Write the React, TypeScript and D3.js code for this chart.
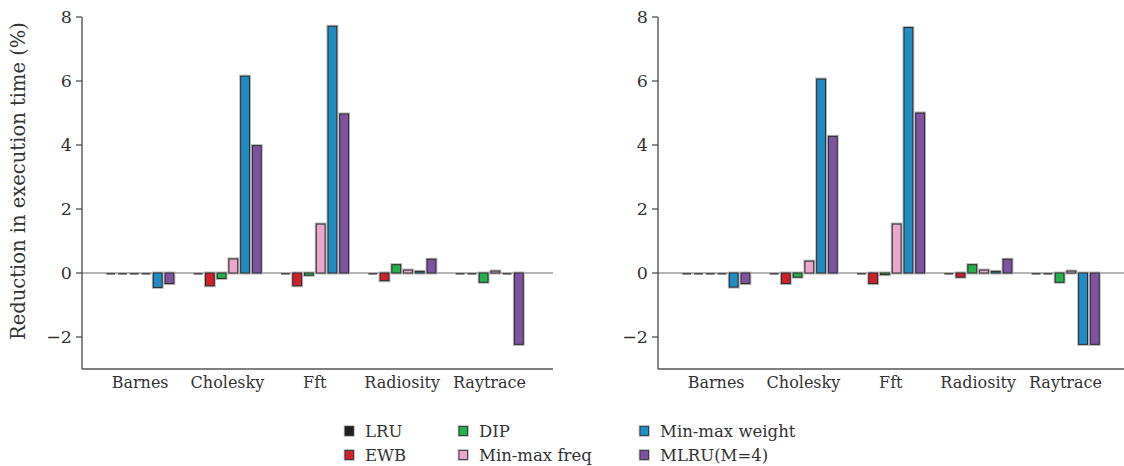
import React from "react";
import * as d3 from "d3";

// Benchmarks on the x axis
const categories = ["Barnes", "Cholesky", "Fft", "Radiosity", "Raytrace"];

// Replacement policies (legend order follows column-major layout)
const seriesNames = ["LRU", "EWB", "DIP", "Min-max freq", "Min-max weight", "MLRU(M=4)"];
const seriesColors = ["#231f20", "#cf1f2a", "#23b14d", "#eba6cb", "#1f8dc4", "#7e52a1"];

// Left panel: reduction in execution time (%)
const leftLRU = [-0.02, -0.02, -0.02, -0.02, -0.02];
const leftEWB = [-0.02, -0.4, -0.4, -0.24, -0.02];
const leftDIP = [-0.02, -0.17, -0.07, 0.26, -0.29];
const leftMinMaxFreq = [-0.02, 0.44, 1.53, 0.09, 0.06];
const leftMinMaxWeight = [-0.45, 6.15, 7.71, 0.05, -0.02];
const leftMLRU = [-0.33, 3.98, 4.97, 0.43, -2.23];

// Right panel: reduction in execution time (%)
const rightLRU = [-0.02, -0.02, -0.02, -0.02, -0.02];
const rightEWB = [-0.02, -0.33, -0.33, -0.13, -0.02];
const rightDIP = [-0.02, -0.13, -0.05, 0.26, -0.29];
const rightMinMaxFreq = [-0.02, 0.37, 1.53, 0.09, 0.06];
const rightMinMaxWeight = [-0.44, 6.06, 7.67, 0.05, -2.23];
const rightMLRU = [-0.33, 4.27, 5.0, 0.43, -2.23];

const yTicks = [-2, 0, 2, 4, 6, 8];
const yDomain: [number, number] = [-3, 8];

const leftSeries = [leftLRU, leftEWB, leftDIP, leftMinMaxFreq, leftMinMaxWeight, leftMLRU];
const rightSeries = [rightLRU, rightEWB, rightDIP, rightMinMaxFreq, rightMinMaxWeight, rightMLRU];

const FONT = "'DejaVu Serif', serif";
const W = 1124;
const H = 466;
const TOP = 17;
const BOTTOM = 369;

const y = d3.scaleLinear().domain(yDomain).range([BOTTOM, TOP]);

function Panel({ x0, series }: { x0: number; series: number[][] }) {
  const x1 = x0 + 471;
  const xGroup = d3
    .scaleBand<string>()
    .domain(categories)
    .range([x0, x1])
    .paddingInner(0.227)
    .paddingOuter(0.31)
    .align(0.45);
  const xSeries = d3
    .scaleBand<string>()
    .domain(seriesNames)
    .range([0, xGroup.bandwidth()])
    .paddingInner(0.25);
  const y0 = y(0);
  return (
    <g>
      {/* zero reference line */}
      <line x1={x0} x2={x1} y1={y0} y2={y0} stroke="#6a6a6a" strokeWidth={1.2} />
      {categories.map((c, ci) =>
        seriesNames.map((s, si) => {
          const v = series[si][ci];
          const bx = (xGroup(c) as number) + (xSeries(s) as number);
          const top = Math.min(y(v), y0);
          const h = Math.abs(y(v) - y0);
          if (h < 1) {
            // near-zero values render as a thin dash
            return (
              <rect key={c + s} x={bx} y={y0} width={xSeries.bandwidth()} height={1.6} fill="#4a4a4a" />
            );
          }
          return (
            <g key={c + s}>
              <rect x={bx} y={top} width={xSeries.bandwidth()} height={h} fill="none" stroke="#b5b5b5" strokeWidth={3} />
              <rect x={bx} y={top} width={xSeries.bandwidth()} height={h} fill={seriesColors[si]} stroke="#2b2b2b" strokeWidth={1} />
            </g>
          );
        })
      )}
      {/* axes */}
      <line x1={x0} x2={x0} y1={TOP} y2={BOTTOM} stroke="#444" strokeWidth={1.3} />
      <line x1={x0} x2={x1} y1={BOTTOM} y2={BOTTOM} stroke="#555" strokeWidth={1.3} />
      {yTicks.map((t) => (
        <g key={t}>
          <line x1={x0 - 6} x2={x0} y1={y(t)} y2={y(t)} stroke="#444" strokeWidth={1.2} />
          <text x={x0 - 10} y={y(t)} dy="0.35em" textAnchor="end" fontFamily={FONT} fontSize={17.5} fill="#333">
            {t < 0 ? "\u2212" + Math.abs(t) : t}
          </text>
        </g>
      ))}
      {categories.map((c) => (
        <text
          key={c}
          x={(xGroup(c) as number) + xGroup.bandwidth() / 2}
          y={388}
          textAnchor="middle"
          fontFamily={FONT}
          fontSize={16}
          fill="#333"
        >
          {c}
        </text>
      ))}
    </g>
  );
}

const legendCols = [345, 459, 640];
const legendRows = [431, 455];

export default function App() {
  return (
    <svg width={W} height={H} style={{ position: "absolute", left: 0, top: 0, background: "#fff" }}>
      <text
        transform={`translate(25,181) rotate(-90)`}
        textAnchor="middle"
        fontFamily={FONT}
        fontSize={19.5}
        fill="#333"
      >
        Reduction in execution time (%)
      </text>
      <Panel x0={82} series={leftSeries} />
      <Panel x0={658} series={rightSeries} />
      {seriesNames.map((s, i) => {
        const col = Math.floor(i / 2);
        const row = i % 2;
        const lx = legendCols[col];
        const ly = legendRows[row];
        return (
          <g key={s}>
            <rect x={lx} y={ly - 4.5} width={8.5} height={9} fill="none" stroke="#b5b5b5" strokeWidth={2.5} />
            <rect x={lx} y={ly - 4.5} width={8.5} height={9} fill={seriesColors[i]} stroke="#2b2b2b" strokeWidth={0.8} />
            <text x={lx + 20} y={ly} dy="0.35em" fontFamily={FONT} fontSize={16.5} fill="#333">
              {s}
            </text>
          </g>
        );
      })}
    </svg>
  );
}
